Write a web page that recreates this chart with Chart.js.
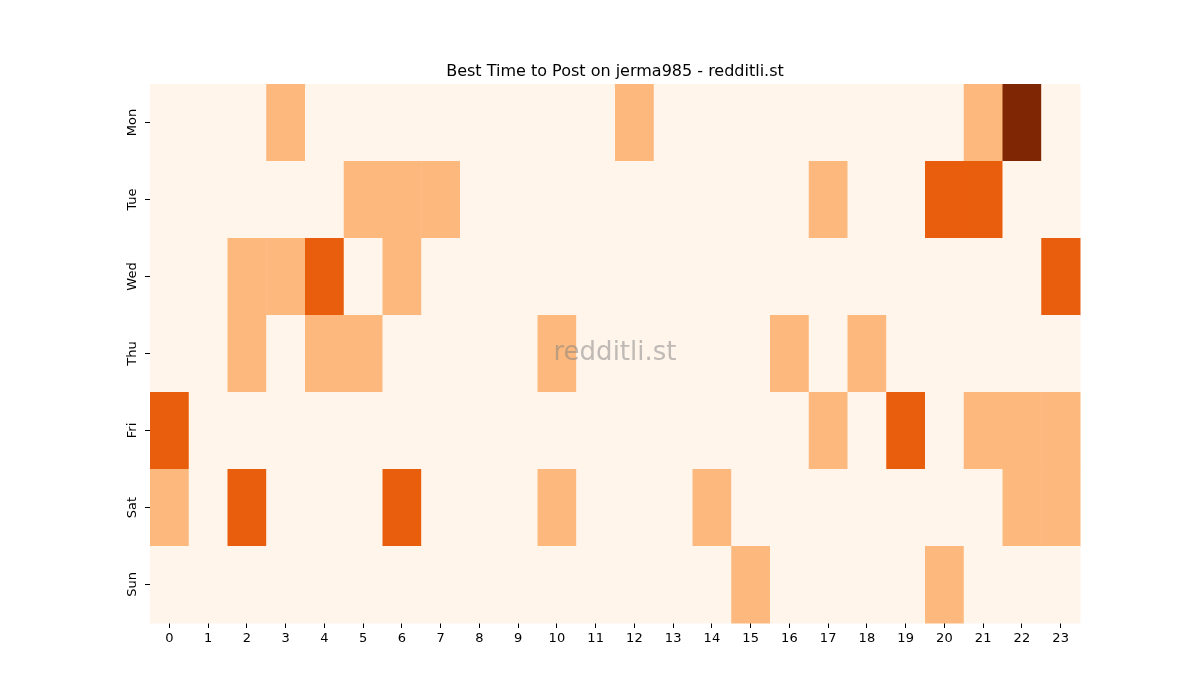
<!DOCTYPE html>
<html><head><meta charset="utf-8">
<script src="https://cdn.jsdelivr.net/npm/chart.js"></script>
<style>html,body{margin:0;padding:0;background:#fff}#c{display:block}</style>
</head><body>
<div style="width:1200px;height:700px"><canvas id="c" width="1200" height="700"></canvas></div>
<script>
const days = ["Mon","Tue","Wed","Thu","Fri","Sat","Sun"];
const hours = ["0","1","2","3","4","5","6","7","8","9","10","11","12","13","14","15","16","17","18","19","20","21","22","23"];
const mon = [0,0,0,1,0,0,0,0,0,0,0,0,1,0,0,0,0,0,0,0,0,1,3,0];
const tue = [0,0,0,0,0,1,1,1,0,0,0,0,0,0,0,0,0,1,0,0,2,2,0,0];
const wed = [0,0,1,1,2,0,1,0,0,0,0,0,0,0,0,0,0,0,0,0,0,0,0,2];
const thu = [0,0,1,0,1,1,0,0,0,0,1,0,0,0,0,0,1,0,1,0,0,0,0,0];
const fri = [2,0,0,0,0,0,0,0,0,0,0,0,0,0,0,0,0,1,0,2,0,1,1,1];
const sat = [1,0,2,0,0,0,2,0,0,0,1,0,0,0,1,0,0,0,0,0,0,0,1,1];
const sun = [0,0,0,0,0,0,0,0,0,0,0,0,0,0,0,1,0,0,0,0,1,0,0,0];
const grid = [mon,tue,wed,thu,fri,sat,sun];
const palette = ["#fff5eb","#fdb97d","#e95e0d","#7f2704"];

const cells = [];
grid.forEach((row,r)=>row.forEach((v,c)=>cells.push({x:c,y:r,v})));

const heat = {
  id:'heat',
  beforeDatasetsDraw(chart){
    const {ctx, scales:{x,y}} = chart;
    cells.forEach(p=>{
      const x0=x.getPixelForValue(p.x-0.5), x1=x.getPixelForValue(p.x+0.5);
      const y0=y.getPixelForValue(p.y-0.5), y1=y.getPixelForValue(p.y+0.5);
      ctx.fillStyle=palette[p.v];
      ctx.fillRect(Math.min(x0,x1),Math.min(y0,y1),Math.abs(x1-x0)+0.5,Math.abs(y1-y0)+0.5);
    });
  },
  afterDraw(chart){
    const {ctx, scales:{x,y}, chartArea:a} = chart;
    ctx.save();
    ctx.fillStyle='#000';
    ctx.font='13px "DejaVu Sans"';
    ctx.textAlign='center'; ctx.textBaseline='middle';
    days.forEach((d,i)=>{
      ctx.save();
      ctx.translate(a.left-17, y.getPixelForValue(i));
      ctx.rotate(-Math.PI/2);
      ctx.fillText(d,0,0);
      ctx.restore();
    });
    ctx.font='16px "DejaVu Sans"';
    ctx.textBaseline='alphabetic';
    ctx.fillText('Best Time to Post on jerma985 - redditli.st',(a.left+a.right)/2,76);
    ctx.font='26px "DejaVu Sans"';
    ctx.fillStyle='rgba(128,128,128,0.5)';
    ctx.textBaseline='middle';
    ctx.fillText('redditli.st',(a.left+a.right)/2,(a.top+a.bottom)/2);
    ctx.restore();
  }
};

new Chart(document.getElementById('c'),{
  type:'scatter',
  data:{datasets:[{data:cells.map(p=>({x:p.x,y:p.y})),pointRadius:0}]},
  options:{
    responsive:false,animation:false,
    layout:{padding:{top:84,right:120,left:0,bottom:0}},
    plugins:{legend:{display:false},tooltip:{enabled:false}},
    scales:{
      x:{type:'linear',min:-0.5,max:23.5,
        afterBuildTicks(s){s.ticks=hours.map((h,i)=>({value:i}));},
        afterFit(s){s.height=77;},
        ticks:{callback:(v)=>hours[v],color:'#000',font:{size:13,family:'DejaVu Sans'},padding:3,autoSkip:false,maxRotation:0},
        grid:{drawOnChartArea:false,drawTicks:true,tickLength:5,color:'#000'},
        border:{display:false}},
      y:{type:'linear',min:-0.5,max:6.5,reverse:true,
        afterBuildTicks(s){s.ticks=days.map((d,i)=>({value:i}));},
        afterFit(s){s.width=150;},
        ticks:{callback:()=>''},
        grid:{drawOnChartArea:false,drawTicks:true,tickLength:5,color:'#000'},
        border:{display:false}}
    }
  },
  plugins:[heat]
});
</script>
</body></html>
